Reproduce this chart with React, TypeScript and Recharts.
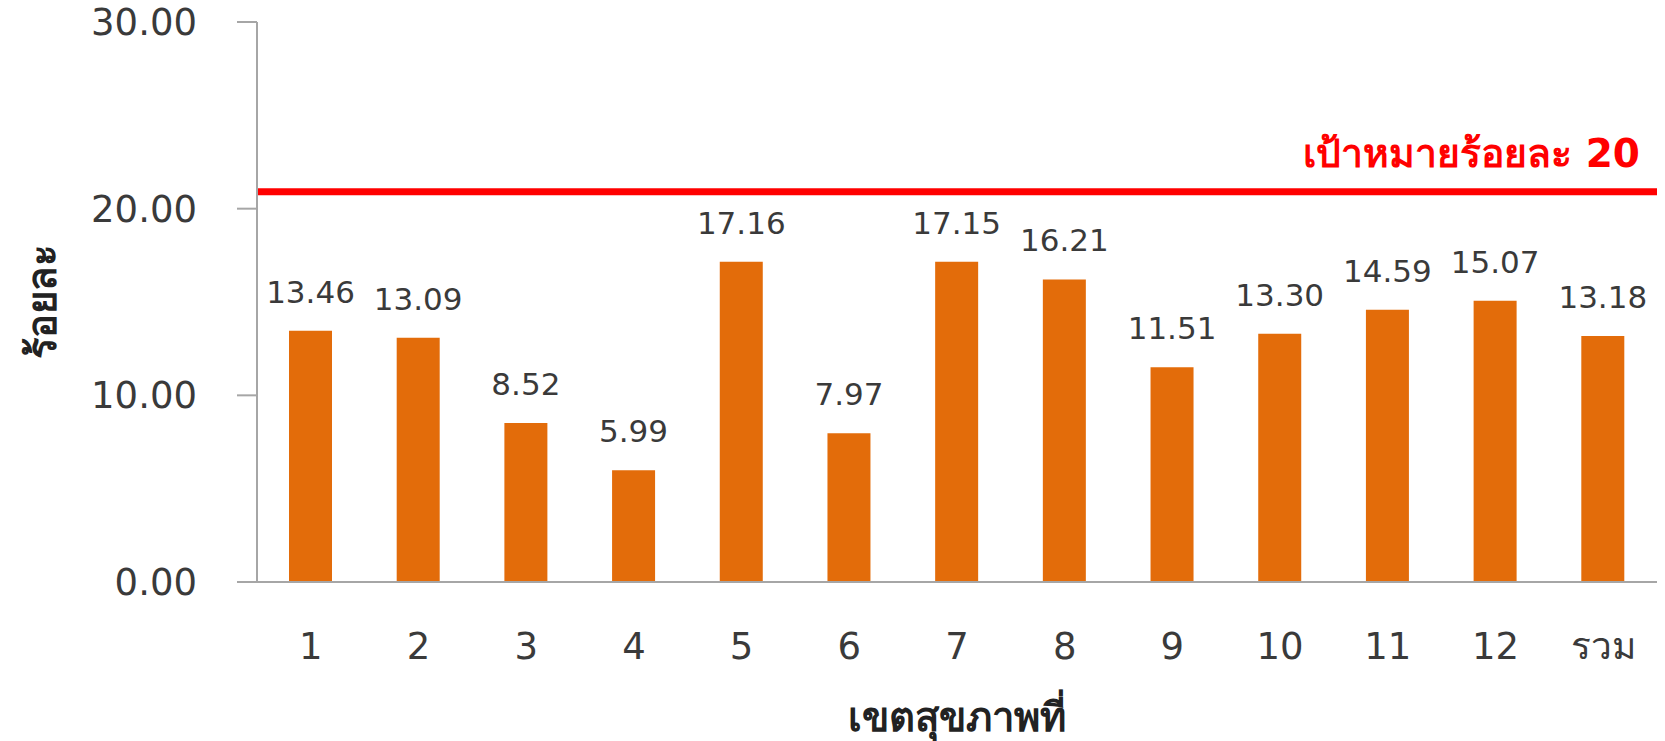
import React from 'react';
import { BarChart, Bar, XAxis, YAxis, ReferenceLine, LabelList, Label } from 'recharts';

const categories = ['1', '2', '3', '4', '5', '6', '7', '8', '9', '10', '11', '12', 'รวม'];
const values = [13.46, 13.09, 8.52, 5.99, 17.16, 7.97, 17.15, 16.21, 11.51, 13.3, 14.59, 15.07, 13.18];
const yTicks = [0, 10, 20, 30];
const targetValue = 20.9;
const targetText = 'เป้าหมายร้อยละ 20';
const xTitle = 'เขตสุขภาพที่';
const yTitle = 'ร้อยละ';

const data = categories.map((c, i) => ({ name: c, value: values[i] }));

const FONT = '"DejaVu Sans", Verdana, sans-serif';

export default function App() {
  return (
    <div style={{ position: 'absolute', left: 0, top: 0, width: 1665, height: 741, background: '#fff' }}>
      <BarChart
        width={1665}
        height={741}
        data={data}
        margin={{ top: 22, right: 8, left: 0, bottom: 0 }}
        barCategoryGap="30%"
      >
        <XAxis
          dataKey="name"
          height={159}
          tickLine={false}
          tickSize={0}
          tickMargin={51}
          axisLine={{ stroke: '#a6a6a6', strokeWidth: 2 }}
          tick={{ fill: '#3a3a3a', fontSize: 37, fontFamily: FONT }}
          interval={0}
        >
          <Label
            content={(props: any) => {
              const vb = props.viewBox;
              return (
                <text
                  x={vb.x + vb.width / 2}
                  y={731}
                  textAnchor="middle"
                  fontSize={40}
                  fontWeight="bold"
                  fontFamily={FONT}
                  fill="#222"
                >
                  {xTitle}
                </text>
              );
            }}
          />
        </XAxis>
        <YAxis
          width={257}
          domain={[0, 30]}
          ticks={yTicks}
          interval={0}
          tickFormatter={(v: number) => v.toFixed(2)}
          tickSize={20}
          tickMargin={40}
          tickLine={{ stroke: '#a6a6a6', strokeWidth: 2 }}
          axisLine={{ stroke: '#a6a6a6', strokeWidth: 2 }}
          tick={{ fill: '#3a3a3a', fontSize: 37, fontFamily: FONT }}
        >
          <Label
            content={(props: any) => {
              const vb = props.viewBox;
              const cy = vb.y + vb.height / 2;
              return (
                <text
                  x={56}
                  y={cy}
                  transform={`rotate(-90 56 ${cy})`}
                  textAnchor="middle"
                  fontSize={40}
                  fontWeight="bold"
                  fontFamily={FONT}
                  fill="#222"
                >
                  {yTitle}
                </text>
              );
            }}
          />
        </YAxis>
        <Bar dataKey="value" fill="#E36C0A" barSize={43} isAnimationActive={false}>
          <LabelList
            dataKey="value"
            position="top"
            offset={28}
            formatter={(v: number) => v.toFixed(2)}
            style={{ fill: '#3a3a3a', fontSize: 31, fontFamily: FONT }}
          />
        </Bar>
        <ReferenceLine
          y={targetValue}
          stroke="#ff0000"
          strokeWidth={7}
          ifOverflow="extendDomain"
          label={(props: any) => {
            const vb = props.viewBox;
            return (
              <text
                x={vb.x + vb.width - 17}
                y={vb.y - 25}
                textAnchor="end"
                fontSize={39}
                fontWeight="bold"
                fontFamily={FONT}
                fill="#ff0000"
              >
                {targetText}
              </text>
            );
          }}
        />
      </BarChart>
    </div>
  );
}
